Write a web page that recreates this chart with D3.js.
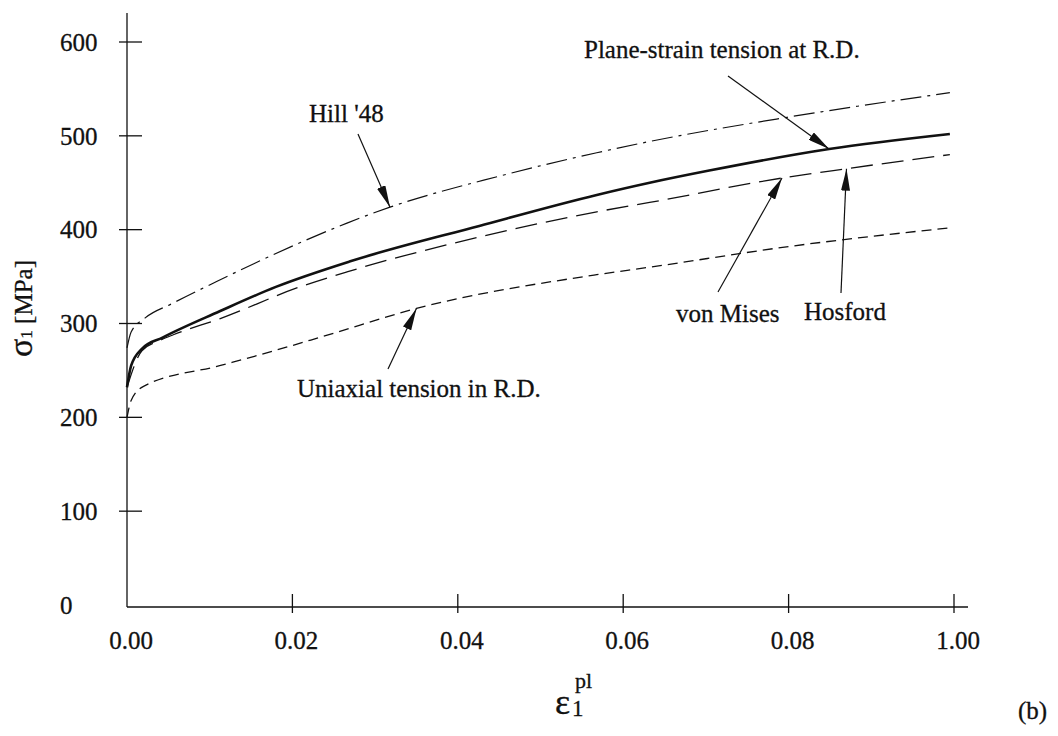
<!DOCTYPE html>
<html>
<head>
<meta charset="utf-8">
<script src="https://cdn.jsdelivr.net/npm/d3@7"></script>
<style>
  body { margin: 0; background: #fff; }
  text { font-family: "Liberation Serif", "Times New Roman", serif; fill: #111; stroke: #111; stroke-width: 0.3px; }
</style>
</head>
<body>
<div id="chart"></div>
<script>
// strain values and stress (MPa)
var hill = [[0,274],[0.0005,291],[0.0022,306],[0.0054,321],[0.0109,345],[0.0154,364],[0.0209,386],
            [0.0266,407],[0.0318,424],[0.045,457],[0.0568,482],[0.0632,494],[0.08,520],[0.0995,546]];
var planeStrain = [[0,232],[0.0005,255],[0.0018,273],[0.0043,285],[0.0112,313],[0.018,339],
            [0.0269,366],[0.0426,404],[0.0568,437],[0.0632,450],[0.0704,463],[0.0849,486],[0.0995,502]];
var misesHosford = [[0,232],[0.0018,271],[0.004,282],[0.0056,288],[0.0112,305],[0.0209,339],
            [0.0266,355],[0.043,393],[0.0568,419],[0.0632,429],[0.0792,455],[0.087,465],[0.0995,480]];
var uniaxial = [[0,200],[0.0005,218],[0.002,233],[0.0112,255],[0.0154,265],[0.024,287],
            [0.035,316],[0.0568,352],[0.0632,360],[0.08,382],[0.0995,402]];

var xTicks = [0, 0.02, 0.04, 0.06, 0.08, 0.1];
var xTickLabels = ['0.00', '0.02', '0.04', '0.06', '0.08', '1.00'];
var yTicks = [0, 100, 200, 300, 400, 500, 600];

// label text, point on the curve the arrow hits
var notes = [
  {text: "Hill '48", at: [0.0318, 424]},
  {text: 'Plane-strain tension at R.D.', at: [0.0849, 486]},
  {text: 'von Mises', at: [0.0792, 455]},
  {text: 'Hosford', at: [0.087, 465]},
  {text: 'Uniaxial tension in R.D.', at: [0.035, 316]}
];
// where each label sits and where its arrow starts
var notePlace = [
  {x: 309, y: 122, tail: [358, 134]},
  {x: 584, y: 58, tail: [728, 76]},
  {x: 676, y: 322, tail: [718, 292]},
  {x: 804, y: 320, tail: [841, 293]},
  {x: 297, y: 397, tail: [388, 369]}
];

var svg = d3.select('#chart').append('svg')
  .attr('width', 1058)
  .attr('height', 736);

var x = d3.scaleLinear().domain([0, 0.1]).range([127, 954]);
var y = d3.scaleLinear().domain([0, 600]).range([605, 42]);

svg.append('defs').append('marker')
  .attr('id', 'head')
  .attr('markerUnits', 'userSpaceOnUse')
  .attr('viewBox', '0 0 22 9')
  .attr('refX', 22).attr('refY', 4.5)
  .attr('markerWidth', 22).attr('markerHeight', 9)
  .attr('orient', 'auto')
  .append('path')
    .attr('d', 'M0,0 L22,4.5 L0,9 Z')
    .attr('fill', '#111');

// axes
var ax = svg.append('g').attr('stroke', '#111').attr('stroke-width', 1.3);
ax.append('line').attr('x1', x(0)).attr('x2', x(0)).attr('y1', 607).attr('y2', 13);
ax.append('line').attr('x1', x(0)).attr('x2', 968).attr('y1', 607).attr('y2', 607);

ax.selectAll('.yt').data(yTicks.slice(1)).enter().append('line')
  .attr('x1', x(0) - 8).attr('x2', x(0) + 15)
  .attr('y1', function(d){ return y(d); })
  .attr('y2', function(d){ return y(d); });
ax.selectAll('.xt').data(xTicks.slice(1)).enter().append('line')
  .attr('x1', function(d){ return x(d); })
  .attr('x2', function(d){ return x(d); })
  .attr('y1', 594).attr('y2', 613);

svg.selectAll('.ylab').data(yTicks).enter().append('text')
  .attr('x', 60)
  .attr('y', function(d){ return y(d); })
  .attr('dy', '0.35em')
  .attr('font-size', 25)
  .text(function(d){ return d; });

svg.selectAll('.xlab').data(xTicks).enter().append('text')
  .attr('x', function(d){ return x(d) + 4; })
  .attr('y', 649)
  .attr('text-anchor', 'middle')
  .attr('font-size', 25)
  .text(function(d, i){ return xTickLabels[i]; });

// axis titles
var yt = svg.append('text')
  .attr('transform', 'translate(32,357) rotate(-90)')
  .attr('font-size', 25);
yt.append('tspan').attr('font-size', 34).text('σ');
yt.append('tspan').attr('font-size', 17).text('1');
yt.append('tspan').text(' [MPa]');

var xt = svg.append('g');
xt.append('text').attr('x', 555).attr('y', 714).attr('font-size', 36).text('ε');
xt.append('text').attr('x', 572).attr('y', 716).attr('font-size', 23).text('1');
xt.append('text').attr('x', 575).attr('y', 688).attr('font-size', 22).text('pl');

svg.append('text').attr('x', 1018).attr('y', 719).attr('font-size', 25).text('(b)');

// curves
var line = d3.line()
  .x(function(d){ return x(d[0]); })
  .y(function(d){ return y(d[1]); })
  .curve(d3.curveMonotoneX);

var series = [
  {data: hill, w: 1.2, dash: '21,6,3,6'},
  {data: planeStrain, w: 2.6, dash: null},
  {data: misesHosford, w: 1.3, dash: '22,9'},
  {data: uniaxial, w: 1.3, dash: '10,6'}
];
svg.selectAll('.curve').data(series).enter().append('path')
  .attr('d', function(d){ return line(d.data); })
  .attr('fill', 'none')
  .attr('stroke', '#111')
  .attr('stroke-width', function(d){ return d.w; })
  .attr('stroke-dasharray', function(d){ return d.dash; });

// labels and arrows
notes.forEach(function(n, i){
  var p = notePlace[i];
  svg.append('text')
    .attr('x', p.x).attr('y', p.y)
    .attr('font-size', 25)
    .text(n.text);
  svg.append('line')
    .attr('x1', p.tail[0]).attr('y1', p.tail[1])
    .attr('x2', x(n.at[0])).attr('y2', y(n.at[1]))
    .attr('stroke', '#111')
    .attr('stroke-width', 1.2)
    .attr('marker-end', 'url(#head)');
});
</script>
</body>
</html>
